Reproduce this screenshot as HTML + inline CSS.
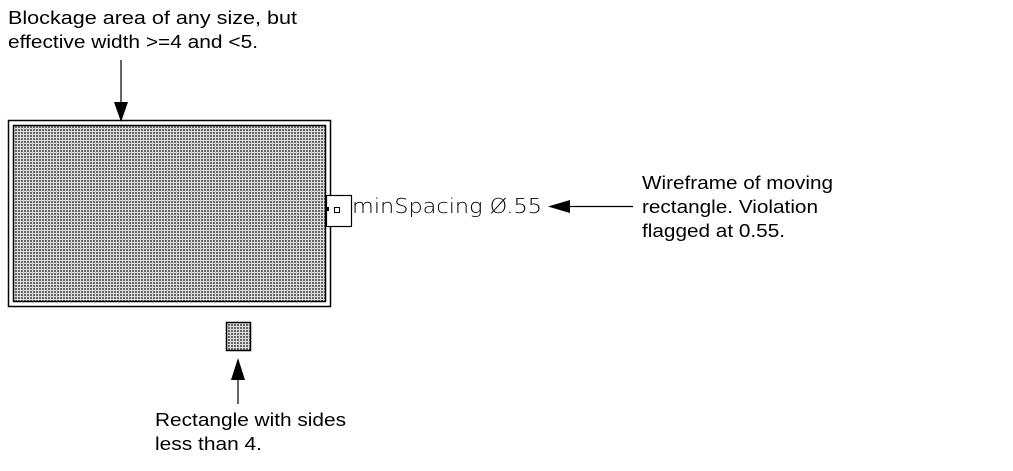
<html><body style="margin:0;background:#fff">
<svg width="1013" height="471" xmlns="http://www.w3.org/2000/svg" style="display:block">
<defs>
<pattern id="d" width="3" height="3" patternUnits="userSpaceOnUse">
<rect width="3" height="3" fill="#ddd"/><rect width="2" height="2" fill="#666"/>
</pattern>
</defs>
<rect x="8.5" y="120.5" width="322" height="186" fill="#fff" stroke="#000" stroke-width="1.5"/>
<rect x="13.5" y="125.5" width="312" height="176" fill="url(#d)" stroke="#000" stroke-width="1.5"/>
<rect x="226.5" y="322.5" width="24" height="28" fill="url(#d)" stroke="#000" stroke-width="1.5"/>
<rect x="326.5" y="195.5" width="25" height="31" fill="#fff" stroke="#000" stroke-width="1.2"/>
<rect x="334.5" y="207.5" width="5" height="5" fill="none" stroke="#000"/>
<rect x="325" y="207" width="4" height="4" fill="#000"/>
<text x="352" y="213" font-family="DejaVu Sans, sans-serif" font-size="20" fill="#000" font-weight="200" textLength="190" lengthAdjust="spacingAndGlyphs">minSpacing Ø.55</text>
<g stroke="#000" stroke-width="1.2">
<line x1="121" y1="60" x2="121" y2="104"/>
<line x1="633" y1="206.5" x2="568" y2="206.5"/>
<line x1="238" y1="404" x2="238" y2="378"/>
</g>
<polygon points="114,102 128,102 121,122" fill="#000"/>
<polygon points="570,200 570,213 548,206.5" fill="#000"/>
<polygon points="231,380 245,380 238,358" fill="#000"/>
<g font-family="Liberation Sans, sans-serif" font-size="18" fill="#000">
<text x="8" y="24" textLength="289" lengthAdjust="spacingAndGlyphs">Blockage area of any size, but</text>
<text x="8" y="48" textLength="250" lengthAdjust="spacingAndGlyphs">effective width &gt;=4 and &lt;5.</text>
<text x="642" y="189" textLength="191" lengthAdjust="spacingAndGlyphs">Wireframe of moving</text>
<text x="642" y="213" textLength="176" lengthAdjust="spacingAndGlyphs">rectangle. Violation</text>
<text x="642" y="237" textLength="143" lengthAdjust="spacingAndGlyphs">flagged at 0.55.</text>
<text x="155" y="426" textLength="191" lengthAdjust="spacingAndGlyphs">Rectangle with sides</text>
<text x="155" y="450" textLength="107" lengthAdjust="spacingAndGlyphs">less than 4.</text>
</g>
</svg>
</body></html>
